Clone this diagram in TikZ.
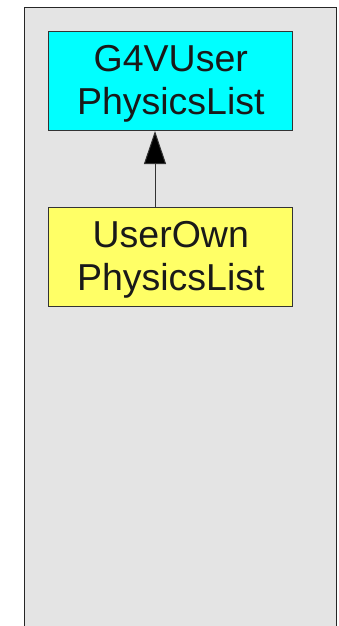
\documentclass[tikz,border=0pt]{standalone}
\usepackage{fontspec}
\setmainfont{Liberation Sans}
\usetikzlibrary{arrows.meta}
\definecolor{panelgray}{HTML}{E4E4E4}
\definecolor{boxcyan}{HTML}{00FFFF}
\definecolor{boxyellow}{HTML}{FFFF66}
\definecolor{edgegray}{HTML}{333333}
\tikzset{
  classbox/.style={draw=edgegray, line width=1pt, minimum width=244pt, minimum height=99pt,
    inner sep=0pt, align=center, text=black!90,
    font=\fontsize{37.5}{43}\selectfont},
  classtext/.style={inner sep=0pt, align=center, text=black!90,
    font=\fontsize{37.5}{43}\selectfont},
  inherit/.style={draw=edgegray, line width=1pt,
    -{Triangle[length=33pt,width=22pt,fill=black]}}
}
\begin{document}
\begin{tikzpicture}[x=1pt,y=1pt]
  \useasboundingbox (0,0) rectangle (338,-626);
  \clip (0,0) rectangle (338,-626);
  % package panel
  \draw[fill=panelgray, draw=black!85, line width=1.5pt] (24.5,-7.3) rectangle (336.3,-640);
  % classes
  \node[classbox, fill=boxcyan] (base) at (170.3,-81) {};
  \node[classtext] (basename) at (170.8,-84) {G4VUser\\PhysicsList};
  \node[classbox, fill=boxyellow] (own) at (170.3,-256.5) {};
  \node[classtext] (ownname) at (170.8,-259.5) {UserOwn\\PhysicsList};
  % generalisation
  \coordinate (link) at (155,0);
  \draw[inherit] (own.north -| link) -- (base.south -| link);
\end{tikzpicture}
\end{document}
